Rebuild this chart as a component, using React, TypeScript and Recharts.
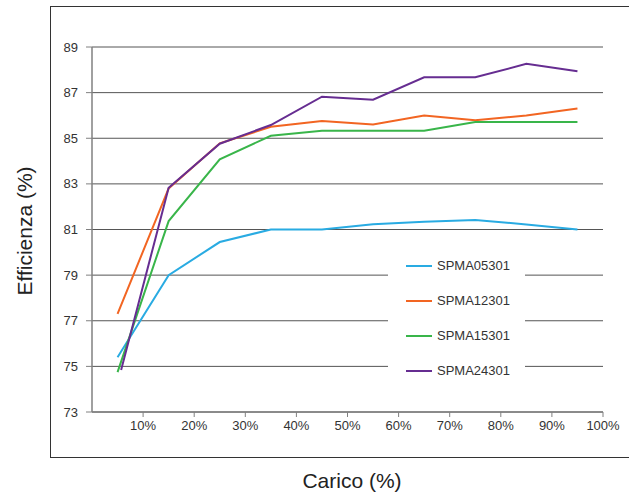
import { CartesianGrid, Legend, Line, LineChart, XAxis, YAxis } from "recharts";

const loads = [5, 15, 25, 35, 45, 55, 65, 75, 85, 95];
const loadsSpma24301 = [5.7, 15, 25, 35, 45, 55, 65, 75, 85, 95];

const spma05301 = [75.4, 79.0, 80.45, 81.0, 81.0, 81.23, 81.34, 81.42, 81.22, 81.0];
const spma12301 = [77.3, 82.8, 84.78, 85.5, 85.76, 85.6, 86.0, 85.79, 86.0, 86.3];
const spma15301 = [74.75, 81.37, 84.08, 85.11, 85.33, 85.33, 85.33, 85.71, 85.71, 85.71];
const spma24301 = [74.84, 82.83, 84.76, 85.58, 86.82, 86.69, 87.67, 87.67, 88.26, 87.94];

const yTicks = [73, 75, 77, 79, 81, 83, 85, 87, 89];
const xTicks = [10, 20, 30, 40, 50, 60, 70, 80, 90, 100];

const series = [
  { name: "SPMA05301", color: "#29abe2", x: loads, y: spma05301 },
  { name: "SPMA12301", color: "#f26522", x: loads, y: spma12301 },
  { name: "SPMA15301", color: "#39b54a", x: loads, y: spma15301 },
  { name: "SPMA24301", color: "#662d91", x: loadsSpma24301, y: spma24301 },
];

const FONT = '"Liberation Sans", Arial, sans-serif';

function LegendBox({ payload }: any) {
  return (
    <div
      style={{
        background: "#fff",
        width: 137,
        height: 140,
        fontFamily: FONT,
        fontSize: 13,
        color: "#333",
      }}
    >
      {(payload || []).map((entry: any) => (
        <div
          key={entry.value}
          style={{ height: 35, display: "flex", alignItems: "center" }}
        >
          <span
            style={{
              display: "inline-block",
              marginLeft: 18,
              width: 26,
              height: 2,
              background: entry.color,
            }}
          />
          <span style={{ marginLeft: 5 }}>{entry.value}</span>
        </div>
      ))}
    </div>
  );
}

export default function App() {
  return (
    <div
      style={{
        position: "absolute",
        left: 0,
        top: 0,
        width: 629,
        height: 492,
        overflow: "hidden",
        background: "#fff",
      }}
    >
      <div
        style={{
          position: "absolute",
          left: 50,
          top: 6,
          width: 640,
          height: 450,
          border: "1px solid #333",
        }}
      />
      <div style={{ position: "absolute", left: 0, top: 0 }}>
        <LineChart
          width={629}
          height={492}
          margin={{ top: 47, right: 26, bottom: 50, left: 32 }}
          style={{ fontFamily: FONT }}
        >
          <CartesianGrid
            vertical={false}
            stroke="#555"
            strokeDasharray=""
          />
          <XAxis
            type="number"
            dataKey="load"
            domain={[0, 100]}
            ticks={xTicks}
            tickFormatter={(v) => `${v}%`}
            height={30}
            tickSize={5}
            tickMargin={4}
            axisLine={{ stroke: "#808080", strokeWidth: 1.5 }}
            tickLine={{ stroke: "#808080" }}
            tick={{ fill: "#333", fontSize: 13 }}
            label={{
              content: () => (
                <text
                  x={352}
                  y={488}
                  textAnchor="middle"
                  fill="#222"
                  fontSize={21}
                  fontFamily={FONT}
                >
                  Carico (%)
                </text>
              ),
            }}
          />
          <YAxis
            type="number"
            domain={[73, 89]}
            ticks={yTicks}
            width={60}
            tickSize={6}
            tickMargin={8}
            axisLine={{ stroke: "#808080", strokeWidth: 1.5 }}
            tickLine={{ stroke: "#808080" }}
            tick={{ fill: "#333", fontSize: 13 }}
            label={{
              content: () => (
                <text
                  x={24}
                  y={231}
                  transform="rotate(-90 24 231)"
                  textAnchor="middle"
                  dominantBaseline="central"
                  fill="#222"
                  fontSize={21}
                  fontFamily={FONT}
                >
                  Efficienza (%)
                </text>
              ),
            }}
          />
          <Legend
            layout="vertical"
            align="center"
            verticalAlign="middle"
            content={<LegendBox />}
            wrapperStyle={{ left: 388, top: 248, width: 137, height: 140 }}
          />
          {series.map((s) => (
            <Line
              key={s.name}
              name={s.name}
              data={s.x.map((load, i) => ({ load, value: s.y[i] }))}
              dataKey="value"
              type="linear"
              stroke={s.color}
              strokeWidth={2}
              dot={false}
              activeDot={false}
              isAnimationActive={false}
            />
          ))}
        </LineChart>
      </div>
    </div>
  );
}
